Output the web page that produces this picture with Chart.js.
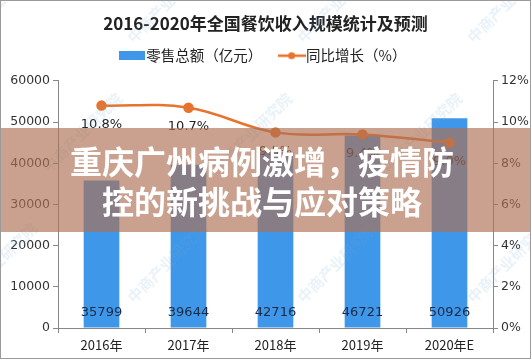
<!DOCTYPE html>
<html>
<head>
<meta charset="utf-8">
<script src="https://cdn.jsdelivr.net/npm/chart.js@4.4.0/dist/chart.umd.min.js"></script>
<style>
  html, body { margin: 0; padding: 0; background: #fff; }
  #wrap { width: 531px; height: 360px; position: relative; }
</style>
</head>
<body>
<div id="wrap"><canvas id="grafico" width="531" height="360"></canvas></div>
<script>
// datos del gráfico
var years = ['2016年', '2017年', '2018年', '2019年', '2020年E'];
var revenue = [35799, 39644, 42716, 46721, 50926];
var growth = [10.8, 10.7, 9.5, 9.4, 9.0];
var leftTicks = [0, 10000, 20000, 30000, 40000, 50000, 60000];
var rightTicks = [0, 2, 4, 6, 8, 10, 12];

var blue = '#3e97e8';
var orange = '#e8732c';
var fuente = '"Noto Sans CJK SC", "DejaVu Sans", sans-serif';
var fuenteNum = '"DejaVu Sans", "Noto Sans CJK SC", sans-serif';

// iconos para la leyenda
function iconBar() {
    var c = document.createElement('canvas');
    c.width = 26; c.height = 9;
    var g = c.getContext('2d');
    g.fillStyle = blue;
    g.fillRect(0, 0, 26, 9);
    return c;
}
function iconLine() {
    var c = document.createElement('canvas');
    c.width = 28; c.height = 10;
    var g = c.getContext('2d');
    g.strokeStyle = orange;
    g.lineWidth = 2.5;
    g.beginPath(); g.moveTo(0, 5); g.lineTo(28, 5); g.stroke();
    g.fillStyle = orange;
    g.beginPath(); g.arc(14, 5, 3.5, 0, Math.PI * 2); g.fill();
    return c;
}

// etiquetas, marca de agua y banda superpuesta
var extras = {
    id: 'extras',
    afterDatasetsDraw: function (chart) {
        var ctx = chart.ctx;
        ctx.save();
        ctx.font = '13px ' + fuenteNum;
        ctx.textAlign = 'center';
        ctx.textBaseline = 'middle';
        var barMeta = chart.getDatasetMeta(0);
        barMeta.data.forEach(function (bar, i) {
            ctx.fillStyle = '#1b2a45';
            ctx.fillText(revenue[i], bar.x, chart.scales.y.getPixelForValue(0) - 15);
        });
        var lineMeta = chart.getDatasetMeta(1);
        lineMeta.data.forEach(function (pt, i) {
            ctx.fillStyle = '#222';
            ctx.fillText(growth[i].toFixed(1) + '%', pt.x, pt.y + 19);
        });
        ctx.restore();
    },
    afterDraw: function (chart) {
        var ctx = chart.ctx;
        ctx.save();
        // marca de agua
        ctx.font = 'bold 15px ' + fuente;
        ctx.fillStyle = 'rgba(120,170,215,0.16)';
        for (var gx = -40; gx < 600; gx += 170) {
            for (var gy = 40; gy < 420; gy += 130) {
                ctx.save();
                ctx.translate(gx + (gy % 260 === 40 ? 0 : 85), gy);
                ctx.rotate(-Math.PI / 4);
                ctx.fillText('中商产业研究院', 0, 0);
                ctx.restore();
            }
        }
        // banda
        ctx.fillStyle = 'rgba(173,113,84,0.66)';
        ctx.fillRect(0, 128, 531, 104);
        ctx.fillStyle = '#fff';
        ctx.font = 'bold 32px ' + fuente;
        ctx.textAlign = 'center';
        ctx.textBaseline = 'middle';
        ctx.fillText('重庆广州病例激增，疫情防', 262, 162);
        ctx.fillText('控的新挑战与应对策略', 262, 202);
        // borde
        ctx.strokeStyle = '#9a9a9a';
        ctx.lineWidth = 1;
        ctx.strokeRect(0.5, 0.5, 530, 358);
        ctx.restore();
    }
};

new Chart(document.getElementById('grafico'), {
    data: {
        labels: years,
        datasets: [{
            type: 'bar',
            label: '零售总额（亿元）',
            data: revenue,
            backgroundColor: blue,
            yAxisID: 'y',
            barPercentage: 0.82,
            categoryPercentage: 0.5,
            order: 2
        }, {
            type: 'line',
            label: '同比增长（%）',
            data: growth,
            borderColor: orange,
            backgroundColor: orange,
            borderWidth: 2.5,
            pointRadius: 4,
            pointHoverRadius: 4,
            tension: 0.4,
            yAxisID: 'y1',
            order: 1,
            pointStyle: 'circle'
        }]
    },
    options: {
        responsive: false,
        animation: false,
        layout: { padding: 0 },
        plugins: {
            tooltip: { enabled: false },
            title: {
                display: true,
                text: '2016-2020年全国餐饮收入规模统计及预测',
                color: '#222',
                font: { family: fuente, size: 17, weight: 'bold', lineHeight: 1.2 },
                padding: { top: 13, bottom: -7 }
            },
            // espacio vacío entre la leyenda y el área del gráfico
            subtitle: {
                display: true,
                text: ' ',
                weight: 500,
                font: { size: 8, lineHeight: 1 },
                padding: 0
            },
            legend: {
                display: true,
                labels: {
                    usePointStyle: true,
                    color: '#222',
                    font: { family: fuente, size: 14.5 },
                    padding: 22,
                    generateLabels: function (chart) {
                        return [
                            { text: '零售总额（亿元）', pointStyle: iconBar(), datasetIndex: 0, fontColor: '#222', lineWidth: 0 },
                            { text: '同比增长（%）', pointStyle: iconLine(), datasetIndex: 1, fontColor: '#222', lineWidth: 0 }
                        ];
                    }
                }
            }
        },
        scales: {
            x: {
                grid: { drawOnChartArea: false, offset: true, color: '#888', tickLength: 5 },
                border: { color: '#888' },
                ticks: { color: '#222', font: { family: fuente, size: 13 }, padding: 4 },
                afterFit: function (s) { s.height = 32; }
            },
            y: {
                position: 'left',
                min: 0, max: 60000,
                afterBuildTicks: function (s) { s.ticks = leftTicks.map(function (v) { return { value: v }; }); },
                grid: { drawOnChartArea: false, color: '#888', tickLength: 5 },
                border: { color: '#888' },
                ticks: { color: '#333', font: { family: fuenteNum, size: 12.5 }, padding: 3,
                    callback: function (v) { return String(v); } },
                afterFit: function (s) { s.width = 58; }
            },
            y1: {
                position: 'right',
                min: 0, max: 12,
                afterBuildTicks: function (s) { s.ticks = rightTicks.map(function (v) { return { value: v }; }); },
                grid: { drawOnChartArea: false, color: '#888', tickLength: 5 },
                border: { color: '#888' },
                ticks: { color: '#333', font: { family: fuenteNum, size: 12.5 }, padding: 3,
                    callback: function (v) { return v + '%'; } },
                afterFit: function (s) { s.width = 38; }
            }
        }
    },
    plugins: [extras]
});
</script>
</body>
</html>
